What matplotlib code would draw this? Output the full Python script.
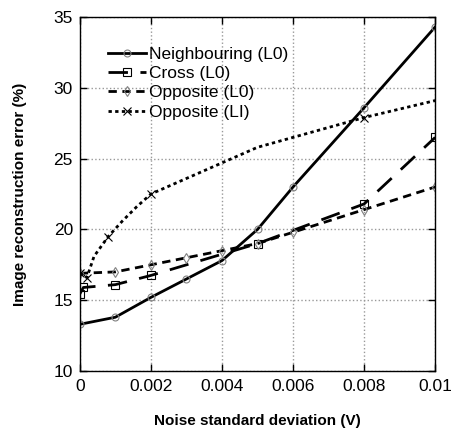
import numpy as np
import matplotlib
matplotlib.use("Agg")
from matplotlib import pyplot as plt

plt.rcParams['font.family'] = ['Liberation Sans', 'DejaVu Sans']

#   Noise level (V) and reconstruction error (%) for each configuration
Neigh_X = [0.0, 0.001, 0.002, 0.003, 0.004, 0.005, 0.006, 0.008, 0.01]
Neigh_Y = [13.3, 13.8, 15.2, 16.5, 17.8, 20.0, 23.0, 28.6, 34.3]

Cross_X = [0.0, 0.0001, 0.001, 0.002, 0.005, 0.008, 0.01]
Cross_Y = [15.45, 15.9, 16.1, 16.75, 19.0, 21.8, 26.5]

OppL0_X = [0.0, 0.001, 0.002, 0.003, 0.004, 0.005, 0.006, 0.008, 0.01]
OppL0_Y = [16.9, 17.0, 17.5, 18.0, 18.5, 19.0, 19.8, 21.4, 23.0]

OppLI_X = [0.0, 0.0002, 0.0004, 0.0008, 0.0012, 0.0016, 0.002, 0.003, 0.004,
           0.005, 0.006, 0.007, 0.008, 0.009, 0.01]
OppLI_Y = [16.9, 16.6, 18.1, 19.5, 20.6, 21.6, 22.5, 23.6, 24.7,
           25.8, 26.5, 27.2, 27.9, 28.5, 29.1]
OppLI_Marks = [0, 1, 3, 6, 12]

X_Ticks = [0, 0.002, 0.004, 0.006, 0.008, 0.01]
X_Labels = ["0", "0.002", "0.004", "0.006", "0.008", "0.01"]
Y_Ticks = [10, 15, 20, 25, 30, 35]

fig = plt.figure(figsize=(4.51, 4.36), dpi=100)
ax = fig.add_axes([0.177, 0.149, 0.788, 0.812])

ax.plot(Neigh_X, Neigh_Y, "k-", lw=2, marker="o", ms=5, mfc="none",
        mec="gray", mew=0.8, label="Neighbouring (L0)")
ax.plot(Cross_X, Cross_Y, "k", lw=2, dashes=(7, 4.5), marker="s", ms=6,
        mfc="none", mec="k", mew=0.8, label="Cross (L0)")
ax.plot(OppL0_X, OppL0_Y, "k", lw=2, dashes=(3, 2), marker="d", ms=5,
        mfc="none", mec="gray", mew=0.8, label="Opposite (L0)")
ax.plot(OppLI_X, OppLI_Y, "k", lw=2, dashes=(1.2, 1.2), marker="x", ms=6,
        mec="k", mew=0.8, markevery=OppLI_Marks, label="Opposite (LI)")

ax.set_xlim(0, 0.01)
ax.set_ylim(10, 35)
ax.set_xticks(X_Ticks)
ax.set_xticklabels(X_Labels)
ax.set_yticks(Y_Ticks)
ax.tick_params(direction="in", top=True, right=True, labelsize=12.5,
               length=5, width=1)
ax.tick_params(axis="x", pad=6)
ax.tick_params(axis="y", pad=5)
ax.grid(True, color="#999999", linestyle=":", linewidth=1)
for s in ax.spines.values():
    s.set_linewidth(1)

ax.set_xlabel("Noise standard deviation (V)", fontsize=11, fontweight="bold",
              labelpad=14)
ax.set_ylabel("Image reconstruction error (%)", fontsize=11, fontweight="bold",
              labelpad=19)

leg = ax.legend(loc="upper left", bbox_to_anchor=(0.06, 0.936), frameon=False,
                fontsize=12.5, handlelength=2.2, handletextpad=0.15,
                labelspacing=0.24, borderaxespad=0)
leg.set_zorder(5)

fig.savefig("out.png", dpi=100, facecolor="white")
